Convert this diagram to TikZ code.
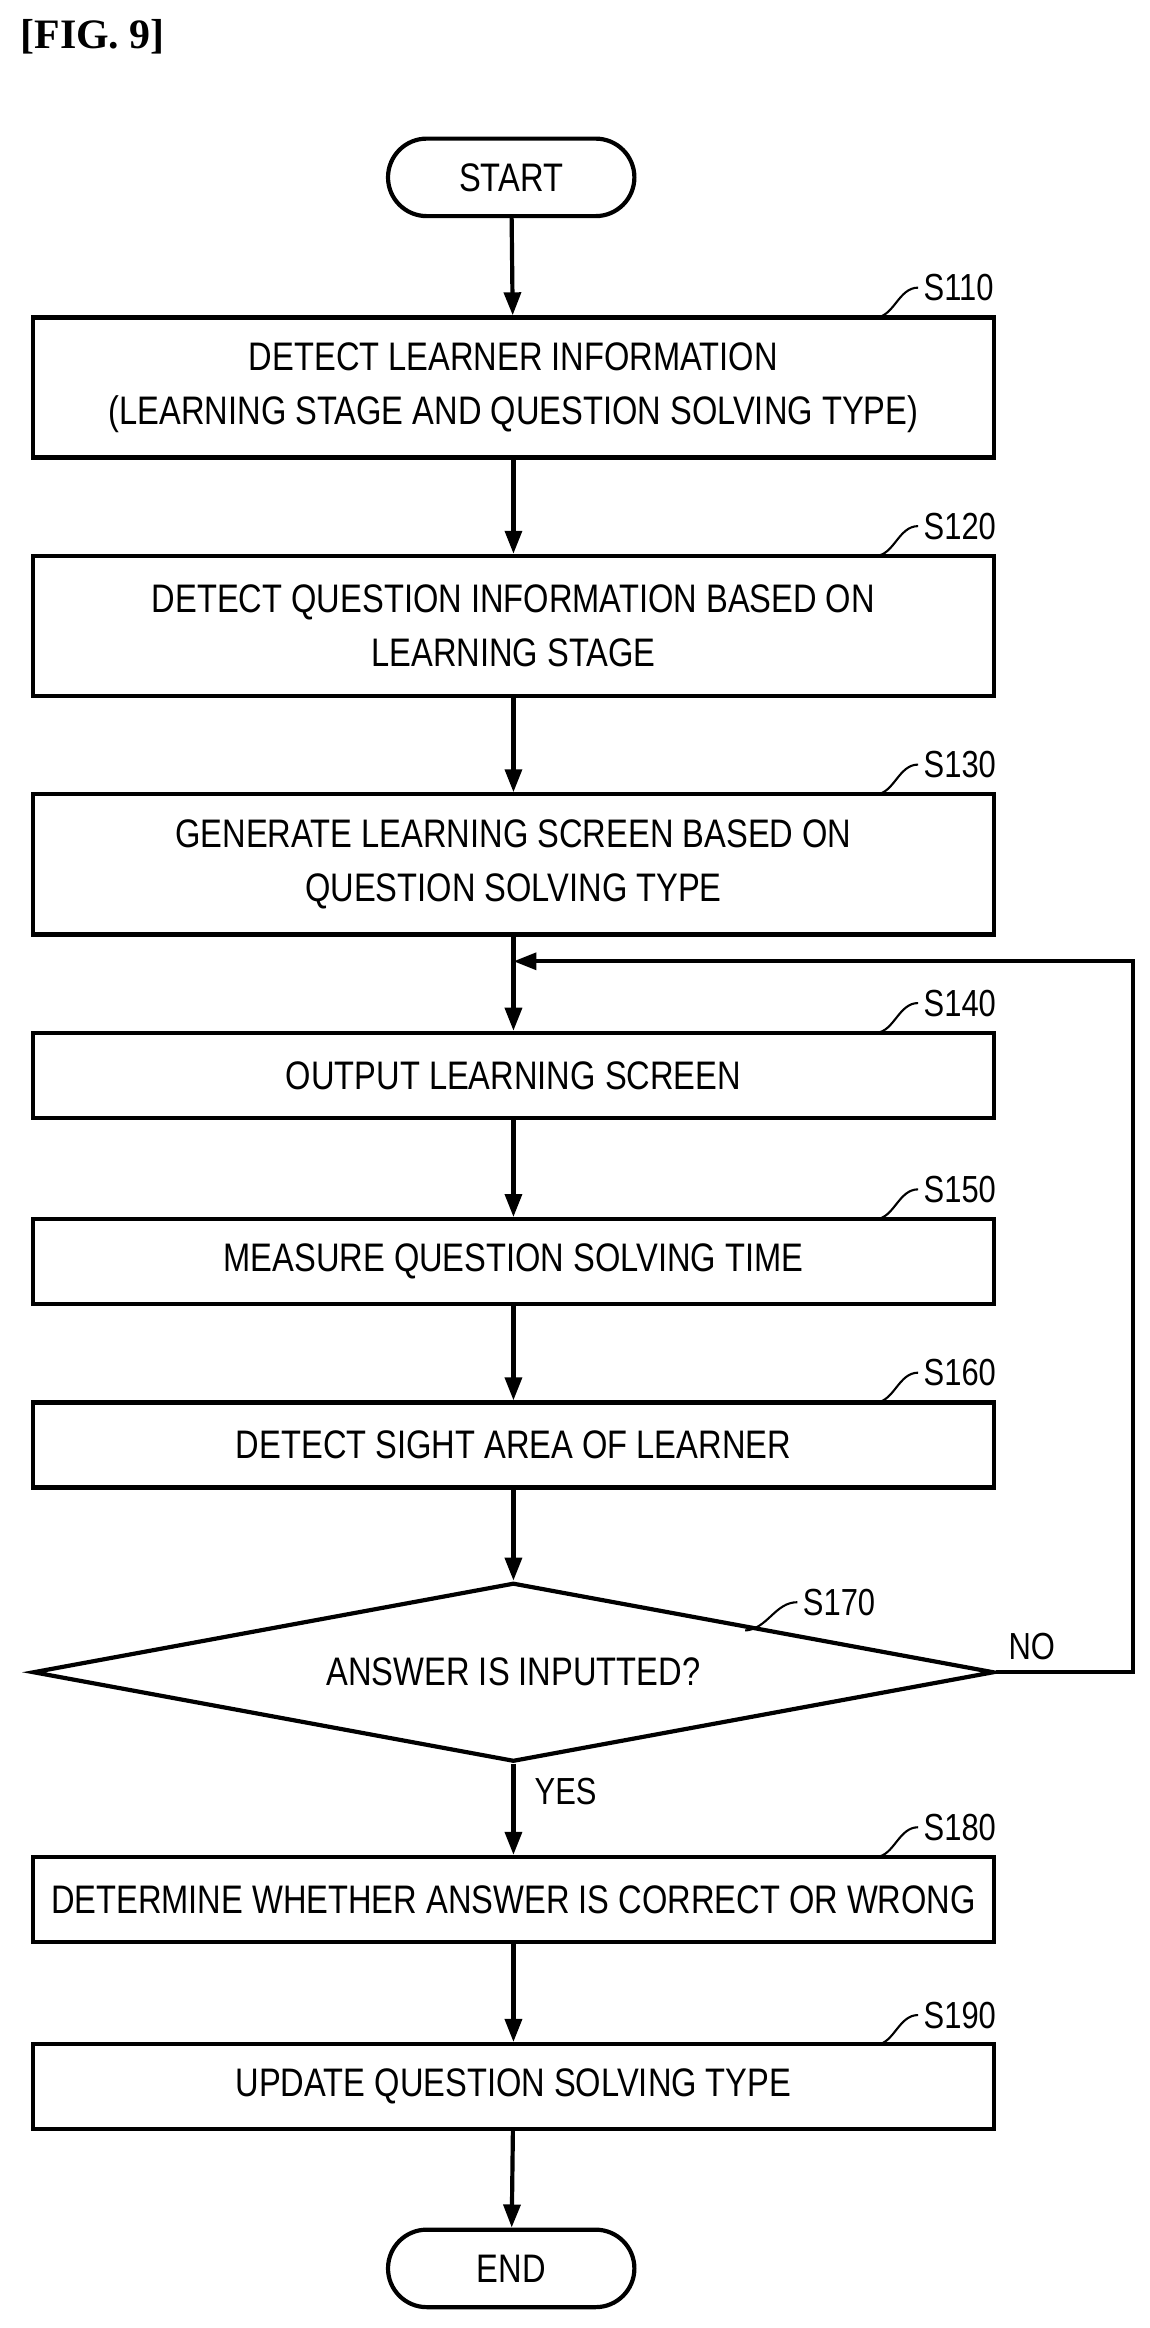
\documentclass[tikz,border=0pt]{standalone}
\usepackage{fontspec}
\setmainfont{Liberation Sans}[FakeStretch=0.82]
\newfontfamily\serifb{Liberation Serif}
\usetikzlibrary{shapes.geometric,arrows.meta}
\begin{document}
\begin{tikzpicture}[x=0.05cm,y=-0.05cm,
  line width=4pt,
  box/.style={draw,rectangle,minimum width=645*0.05cm,inner sep=0pt,align=center,font=\fontsize{38}{52}\selectfont},
  term/.style={draw,rounded rectangle,minimum width=170*0.05cm,minimum height=52*0.05cm,font=\fontsize{38}{46}\selectfont},
  lab/.style={font=\fontsize{36}{40}\selectfont,anchor=west},
  arr/.style={-{Triangle[length=22pt,width=16pt]}}]
\useasboundingbox (0,0) rectangle (771,1562);
\usetikzlibrary{shapes.misc}
\node[font=\serifb\bfseries\fontsize{40}{44}\selectfont,anchor=west] (fig) at (10,25) {[FIG. 9]};
\node[term] (start) at (343,119) {START};
\node[box,minimum height=94*0.05cm] (s110) at (344.5,260) {DETECT LEARNER INFORMATION\\(LEARNING STAGE AND QUESTION SOLVING TYPE)};
\node[box,minimum height=94*0.05cm] (s120) at (344.5,420) {DETECT QUESTION INFORMATION BASED ON\\LEARNING STAGE};
\node[box,minimum height=94*0.05cm] (s130) at (344.5,580) {GENERATE LEARNING SCREEN BASED ON\\QUESTION SOLVING TYPE};
\node[box,minimum height=57*0.05cm] (s140) at (344.5,721.5) {OUTPUT LEARNING SCREEN};
\node[box,minimum height=57*0.05cm] (s150) at (344.5,846.5) {MEASURE QUESTION SOLVING TIME};
\node[box,minimum height=57*0.05cm] (s160) at (344.5,969.5) {DETECT SIGHT AREA OF LEARNER};
\node[draw,diamond,aspect=5.375,minimum width=645*0.05cm,minimum height=120*0.05cm,inner sep=0pt,font=\fontsize{38}{46}\selectfont] (d) at (344.5,1122) {ANSWER IS INPUTTED?};
\node[box,minimum height=57*0.05cm] (s180) at (344.5,1274.5) {DETERMINE WHETHER ANSWER IS CORRECT OR WRONG};
\node[box,minimum height=57*0.05cm] (s190) at (344.5,1400) {UPDATE QUESTION SOLVING TYPE};
\node[term] (end) at (343,1522) {END};
\draw[arr] (start) -- (s110);
\draw[arr] (s110) -- (s120);
\draw[arr] (s120) -- (s130);
\draw[arr] (s130) -- (s140);
\draw[arr] (s140) -- (s150);
\draw[arr] (s150) -- (s160);
\draw[arr] (s160) -- (d);
\draw[arr] (d) -- (s180);
\draw[arr] (s180) -- (s190);
\draw[arr] (s190) -- (end);
\coordinate (j) at (344.5,645);
\draw[arr] (d.east) -- (760,1122) -- (760,645) -- (j);
\node[lab] (no) at (673,1105) {NO};
\node[lab] (yes) at (355,1202) {YES};
\foreach \n/\y/\t in {s110/193/S110,s120/353/S120,s130/513/S130,s140/673/S140,s150/798/S150,s160/921/S160,s180/1226/S180,s190/1352/S190}{
  \node[lab] (l\n) at (616,\y) {\t};
  \draw[line width=2pt] (588,\y+20) .. controls (600,\y+19) and (603,\y) .. (l\n.west);
}
\node[lab] (ld) at (535,1075) {S170};
\draw[line width=2pt] (500,1094) .. controls (515,1093) and (520,1075) .. (ld.west);
\end{tikzpicture}
\end{document}
